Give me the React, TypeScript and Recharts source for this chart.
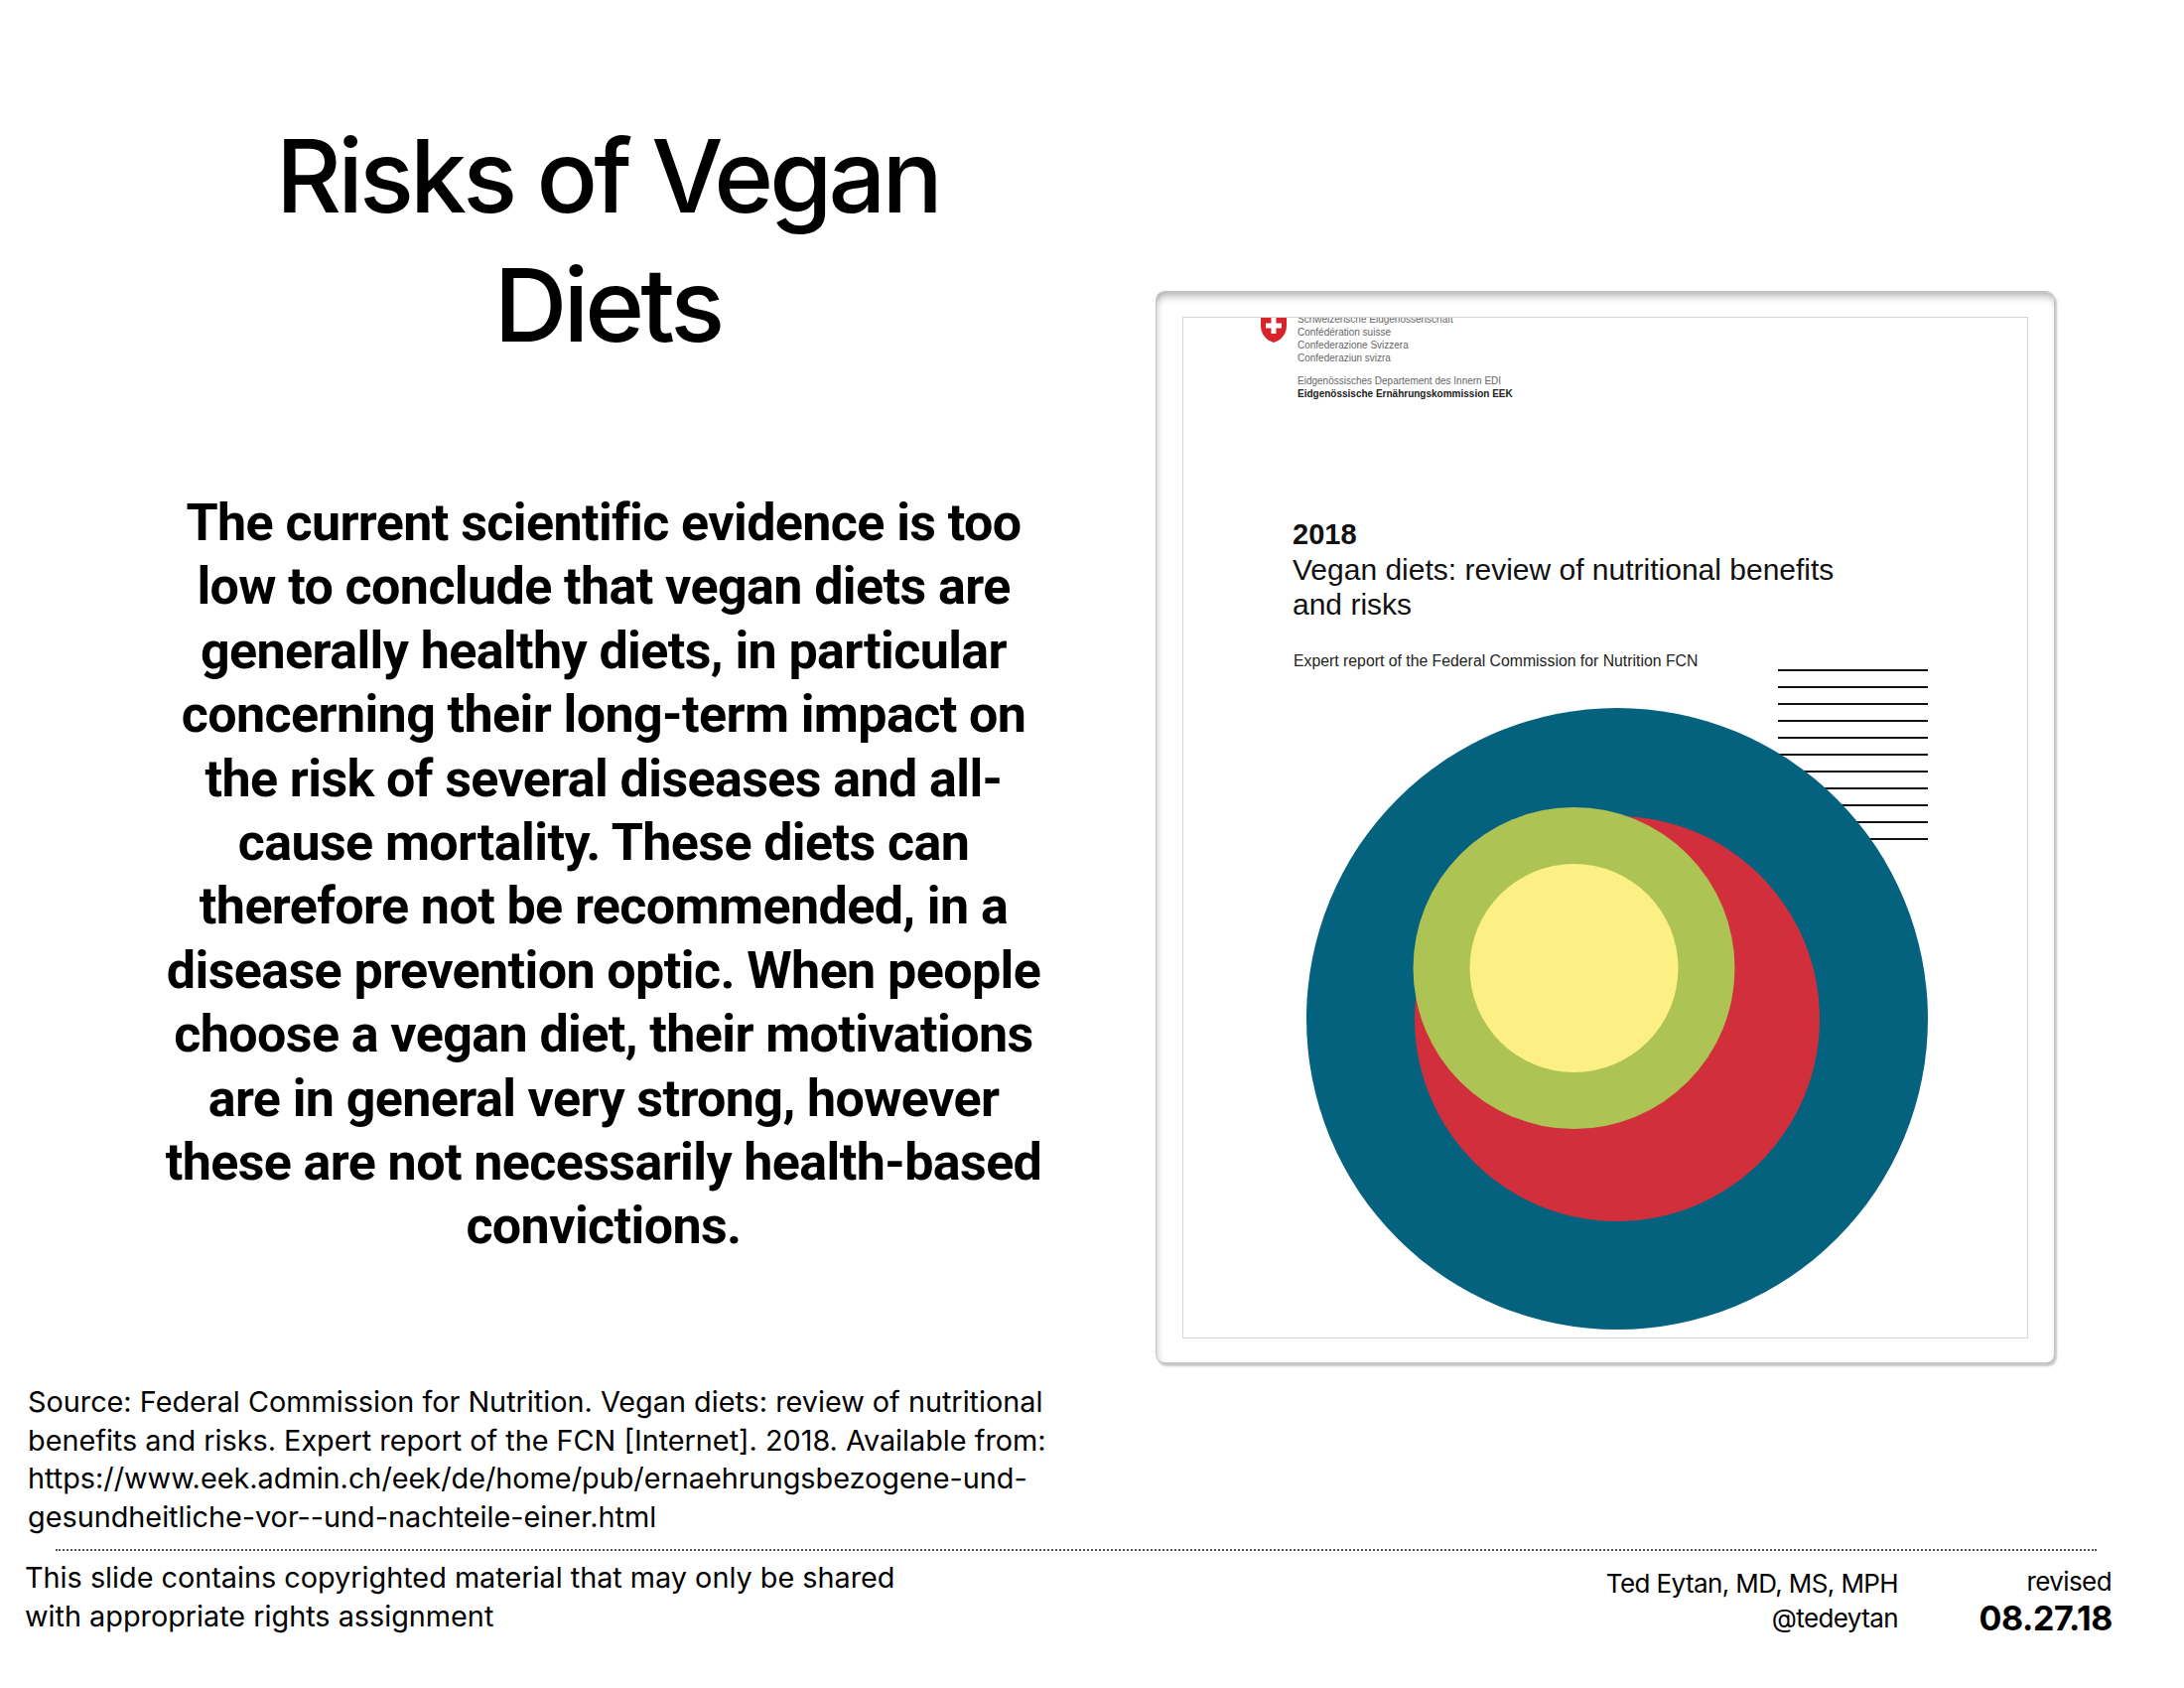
import { ScatterChart, Scatter, XAxis, YAxis, ReferenceLine } from 'recharts';

// cover page coordinate system: 1 unit = 10px
const X_MAX = 85.2;
const Y_MAX = 102.9;
const PAGE_W = 852;
const PAGE_H = 1029;
const PX_PER_UNIT = PAGE_W / X_MAX;

const RING_NAMES = ['outer', 'middle', 'inner', 'core'];
const RING_X = [43.7, 43.7, 39.35, 39.35];
const RING_Y = [70.6, 70.6, 65.5, 65.5];
const RING_R = [31.3, 20.4, 16.2, 10.5];

const RULE_X = [59.9, 75.0];
const RULE_Y = [35.5, 37.2, 38.9, 40.6, 42.3, 44.0, 45.7, 47.4, 49.1, 50.8, 52.5];

const RING_COLORS = ['#05627f', '#d22f3c', '#adc353', '#fcef83'];

const TITLE_LINES = ['Risks of Vegan', 'Diets'];
const BODY_LINES = [
  'The current scientific evidence is too',
  'low to conclude that vegan diets are',
  'generally healthy diets, in particular',
  'concerning their long-term impact on',
  'the risk of several diseases and all-',
  'cause mortality. These diets can',
  'therefore not be recommended, in a',
  'disease prevention optic. When people',
  'choose a vegan diet, their motivations',
  'are in general very strong, however',
  'these are not necessarily health-based',
  'convictions.',
];
const SOURCE_LINES = [
  'Source: Federal Commission for Nutrition. Vegan diets: review of nutritional',
  'benefits and risks. Expert report of the FCN [Internet]. 2018. Available from:',
  'https://www.eek.admin.ch/eek/de/home/pub/ernaehrungsbezogene-und-',
  'gesundheitliche-vor--und-nachteile-einer.html',
];
const HEADER_LINES = [
  'Schweizerische Eidgenossenschaft',
  'Confédération suisse',
  'Confederazione Svizzera',
  'Confederaziun svizra',
];

const rings = RING_NAMES.map((name, i) => ({
  name,
  data: [{ x: RING_X[i], y: RING_Y[i], r: RING_R[i] }],
}));

const ringShape = (fill: string) => (props: any) => (
  <circle cx={props.cx} cy={props.cy} r={props.payload.r * PX_PER_UNIT} fill={fill} />
);

const SANS = 'Inter, Roboto, sans-serif';
const ARIAL = '"Liberation Sans", Arial, sans-serif';

function Cover() {
  return (
    <>
      <div
        style={{
          position: 'absolute', left: 1164, top: 293, width: 906, height: 1080,
          boxSizing: 'border-box', borderRadius: 9, background: '#fff',
          border: '1px solid #c4c4c4',
          boxShadow: 'inset 0 10px 8px -6px rgba(0,0,0,0.3), inset 7px 0 6px -5px rgba(0,0,0,0.15), 2px 3px 2px rgba(0,0,0,0.22)',
        }}
      />
      <div
        style={{
          position: 'absolute', left: 1191, top: 319, width: PAGE_W, height: PAGE_H,
          boxSizing: 'border-box', border: '1.5px solid #d6d6d6', background: '#fff',
          overflow: 'hidden',
        }}
      >
        <svg style={{ position: 'absolute', left: 77, top: -6, width: 28, height: 32 }} viewBox="0 0 28 32">
          <path d="M1 0 H27 V14 C27 24 20 29 14 31 C8 29 1 24 1 14 Z" fill="#d8232a" />
          <rect x="11.5" y="6" width="5" height="16" fill="#fff" />
          <rect x="6" y="11.5" width="16" height="5" fill="#fff" />
        </svg>
        <div style={{ position: 'absolute', left: 115, top: -5, fontFamily: ARIAL, fontSize: 10, lineHeight: '13px', color: '#666', whiteSpace: 'nowrap' }}>
          {HEADER_LINES.map((l) => <div key={l}>{l}</div>)}
          <div style={{ height: 10 }} />
          <div>Eidgenössisches Departement des Innern EDI</div>
          <div style={{ fontWeight: 700, color: '#222' }}>Eidgenössische Ernährungskommission EEK</div>
        </div>
        <div style={{ position: 'absolute', left: 110, top: 201, fontFamily: ARIAL, fontSize: 30, lineHeight: '35px', color: '#111', whiteSpace: 'nowrap' }}>
          <div style={{ fontWeight: 700, fontSize: 29 }}>2018</div>
          <div>Vegan diets: review of nutritional benefits</div>
          <div>and risks</div>
        </div>
        <div style={{ position: 'absolute', left: 111, top: 337, fontFamily: ARIAL, fontSize: 15.8, lineHeight: '18px', color: '#222', whiteSpace: 'nowrap' }}>
          Expert report of the Federal Commission for Nutrition FCN
        </div>
        <div style={{ position: 'absolute', left: 0, top: 0 }}>
          <ScatterChart width={PAGE_W} height={PAGE_H} margin={{ top: 0, right: 0, bottom: 0, left: 0 }}>
            <XAxis type="number" dataKey="x" domain={[0, X_MAX]} hide />
            <YAxis type="number" dataKey="y" domain={[0, Y_MAX]} reversed hide />
            {rings.map((ring, i) => (
              <Scatter
                key={ring.name}
                name={ring.name}
                data={ring.data}
                fill={RING_COLORS[i]}
                shape={ringShape(RING_COLORS[i])}
                isAnimationActive={false}
              />
            ))}
            {RULE_Y.map((y) => (
              <ReferenceLine
                key={y}
                segment={[{ x: RULE_X[0], y }, { x: RULE_X[1], y }]}
                stroke="#111"
                strokeWidth={2}
              />
            ))}
          </ScatterChart>
        </div>
      </div>
    </>
  );
}

export default function App() {
  return (
    <div style={{ position: 'absolute', left: 0, top: 0, width: 2200, height: 1700, background: '#fff', color: '#000', overflow: 'hidden' }}>
      <div
        style={{
          position: 'absolute', left: 112, top: 112, width: 1000, textAlign: 'center',
          fontFamily: SANS, fontWeight: 500, fontSize: 102, lineHeight: '130px', letterSpacing: -3.9,
        }}
      >
        {TITLE_LINES.map((l) => <div key={l}>{l}</div>)}
      </div>
      <div
        style={{
          position: 'absolute', left: 108, top: 495, width: 1000, textAlign: 'center',
          fontFamily: 'Roboto, sans-serif', whiteSpace: 'nowrap',
          fontWeight: 700, fontSize: 52, lineHeight: '64.4px', letterSpacing: -0.6,
        }}
      >
        {BODY_LINES.map((l) => <div key={l}>{l}</div>)}
      </div>
      <div style={{ position: 'absolute', left: 28, top: 1393, fontFamily: SANS, fontSize: 28.8, lineHeight: '38.5px', whiteSpace: 'nowrap' }}>
        {SOURCE_LINES.map((l) => <div key={l}>{l}</div>)}
      </div>
      <div style={{ position: 'absolute', left: 56, top: 1560, width: 2056, borderTop: '2px dotted #555' }} />
      <div style={{ position: 'absolute', left: 25, top: 1569, fontFamily: SANS, fontSize: 28.8, lineHeight: '39px', whiteSpace: 'nowrap' }}>
        <div>This slide contains copyrighted material that may only be shared</div>
        <div>with appropriate rights assignment</div>
      </div>
      <div style={{ position: 'absolute', right: 2200 - 1912, top: 1577, textAlign: 'right', fontFamily: SANS, fontSize: 26, lineHeight: '35px', letterSpacing: -0.6 }}>
        <div>Ted Eytan, MD, MS, MPH</div>
        <div>@tedeytan</div>
      </div>
      <div style={{ position: 'absolute', right: 2200 - 2127, top: 1577, textAlign: 'right', fontFamily: SANS, fontSize: 26, lineHeight: '32px', letterSpacing: -0.6 }}>
        revised
      </div>
      <div style={{ position: 'absolute', right: 2200 - 2128, top: 1610, textAlign: 'right', fontFamily: SANS, fontWeight: 700, fontSize: 34, lineHeight: '40px', letterSpacing: -0.4 }}>
        08.27.18
      </div>
      <Cover />
    </div>
  );
}
